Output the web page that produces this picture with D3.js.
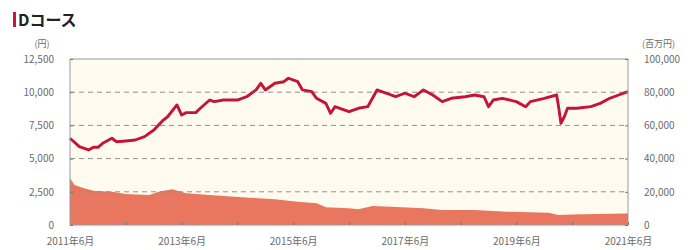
<!DOCTYPE html>
<html lang="ja">
<head>
<meta charset="utf-8">
<title>Dコース</title>
<script src="https://cdn.jsdelivr.net/npm/d3@7"></script>
<style>
body { margin: 0; background: #fff; }
.axis text { fill: #6a6a6a; font: 10px "Noto Sans CJK JP", "DejaVu Sans", sans-serif; }
.axis path { display: none; }
.axis line { stroke: #777; }
</style>
</head>
<body>
<svg id="chart" width="690" height="250"></svg>
<script>
// 基準価額 (円)
var navDates = ["2011-06","2011-08","2011-10","2011-11","2011-12","2012-01","2012-03","2012-04","2012-06","2012-08",
  "2012-10","2012-12","2013-02","2013-03","2013-05","2013-06","2013-07","2013-09","2013-10","2013-12",
  "2014-01","2014-03","2014-06","2014-08","2014-10","2014-11","2014-12","2015-02","2015-04","2015-05",
  "2015-07","2015-08","2015-10","2015-11","2016-01","2016-02","2016-03","2016-04","2016-06","2016-08",
  "2016-10","2016-11","2016-12","2017-02","2017-04","2017-06","2017-08","2017-10","2017-12","2018-02",
  "2018-04","2018-07","2018-09","2018-11","2018-12","2019-01","2019-03","2019-06","2019-08","2019-09",
  "2019-12","2020-02-20","2020-03-05","2020-03-19","2020-04-10","2020-05","2020-07","2020-10","2020-12","2021-02",
  "2021-04","2021-06"];
var navValues = [6530,5900,5650,5850,5850,6150,6530,6270,6330,6400,
  6650,7150,7900,8150,9040,8280,8460,8460,8790,9410,
  9290,9410,9410,9660,10170,10670,10170,10670,10790,11050,
  10790,10170,10040,9540,9160,8410,8910,8790,8530,8790,
  8910,9540,10170,9920,9660,9920,9660,10170,9790,9290,
  9540,9660,9790,9660,8910,9410,9540,9290,8910,9290,
  9540,9790,8790,7660,8150,8790,8790,8910,9160,9540,
  9790,10040];

// 純資産総額 (百万円)
var assetDates = ["2011-06","2011-07","2011-09","2011-11","2012-03","2012-06","2012-11","2013-01","2013-04","2013-07",
  "2013-12","2014-07","2015-02","2015-07","2015-11","2016-01","2016-06","2016-08","2016-11","2017-03",
  "2017-10","2018-02","2018-09","2019-04","2020-01","2020-03","2020-06","2021-05","2021-06"];
var assetValues = [28100,24100,22100,20700,20100,18700,18100,20100,21500,19100,
  18100,16700,15500,14000,13100,10700,10100,9500,11400,11000,
  10100,9000,9000,8000,7400,6000,6400,7000,7000];

var leftTicks = [0, 2500, 5000, 7500, 10000, 12500];
var rightTicks = [0, 20000, 40000, 60000, 80000, 100000];
var xTickDates = ["2011-06","2013-06","2015-06","2017-06","2019-06","2021-06"];
var xTickLabels = ["2011年6月","2013年6月","2015年6月","2017年6月","2019年6月","2021年6月"];

var parse = function(s) {
  return s.length > 7 ? d3.timeParse("%Y-%m-%d")(s) : d3.timeParse("%Y-%m")(s);
};

var svg = d3.select("#chart"),
    margin = {top: 59, right: 62, bottom: 25, left: 70},
    width = +svg.attr("width") - margin.left - margin.right,
    height = +svg.attr("height") - margin.top - margin.bottom,
    g = svg.append("g").attr("transform", "translate(" + margin.left + "," + margin.top + ")");

var x = d3.scaleTime()
    .domain([parse(xTickDates[0]), parse(xTickDates[xTickDates.length - 1])])
    .range([0, width]);
var yL = d3.scaleLinear().domain([0, 12500]).range([height, 0]);
var yR = d3.scaleLinear().domain([0, 100000]).range([height, 0]);

// title
svg.append("rect").attr("x", 13).attr("y", 12).attr("width", 3).attr("height", 15).attr("fill", "#c8173a");
svg.append("text").attr("x", 18).attr("y", 26)
    .style("font", "bold 16px 'Noto Sans CJK JP', sans-serif").attr("fill", "#222")
    .text("Dコース");

// unit labels
svg.append("text").attr("x", 42).attr("y", 47).attr("text-anchor", "middle")
    .style("font", "9px 'Noto Sans CJK JP', sans-serif").attr("fill", "#6a6a6a").text("(円)");
svg.append("text").attr("x", 642).attr("y", 47)
    .style("font", "9px 'Noto Sans CJK JP', sans-serif").attr("fill", "#6a6a6a").text("(百万円)");

// plot background
g.append("rect").attr("width", width).attr("height", height).attr("fill", "#fffcef");

// asset area
var area = d3.area()
    .x(function(d, i) { return x(parse(assetDates[i])); })
    .y0(height)
    .y1(function(d) { return yR(d); });
g.append("path").datum(assetValues).attr("d", area).attr("fill", "#e9765f");

// grid
g.selectAll(".grid").data(leftTicks.slice(1, -1)).enter().append("line")
    .attr("x1", 0).attr("x2", width)
    .attr("y1", function(d) { return yL(d); }).attr("y2", function(d) { return yL(d); })
    .attr("stroke", "#8f8f8f").attr("stroke-width", 1).attr("stroke-dasharray", "5,4");

// nav line
var line = d3.line()
    .x(function(d, i) { return x(parse(navDates[i])); })
    .y(function(d) { return yL(d); });
g.append("path").datum(navValues).attr("d", line)
    .attr("fill", "none").attr("stroke", "#c41437").attr("stroke-width", 2.9)
    .attr("stroke-linejoin", "round");

// frame
g.append("rect").attr("width", width).attr("height", height)
    .attr("fill", "none").attr("stroke", "#9a9a9a").attr("stroke-width", 1);

// axes
g.append("g").attr("class", "axis")
    .call(d3.axisLeft(yL).tickValues(leftTicks).tickFormat(d3.format(",")).tickSizeInner(-3).tickPadding(16));
g.append("g").attr("class", "axis").attr("transform", "translate(" + width + ",0)")
    .call(d3.axisRight(yR).tickValues(rightTicks).tickFormat(d3.format(",")).tickSizeInner(-3).tickPadding(16));

var yearTicks = d3.timeYear.every(1).range(parse("2011-06"), parse("2021-07")).map(function(d) {
  return d3.timeMonth.offset(d, 5);
}).filter(function(d) { return d <= x.domain()[1]; });
g.append("g").attr("class", "axis").attr("transform", "translate(0," + height + ")")
    .call(d3.axisBottom(x).tickValues(yearTicks).tickSizeInner(-3).tickFormat(""));
g.append("g").attr("class", "axis").attr("transform", "translate(0," + height + ")")
    .call(d3.axisBottom(x).tickValues(xTickDates.map(parse)).tickSize(0).tickPadding(13)
      .tickFormat(function(d, i) { return xTickLabels[i]; }));
</script>
</body>
</html>
